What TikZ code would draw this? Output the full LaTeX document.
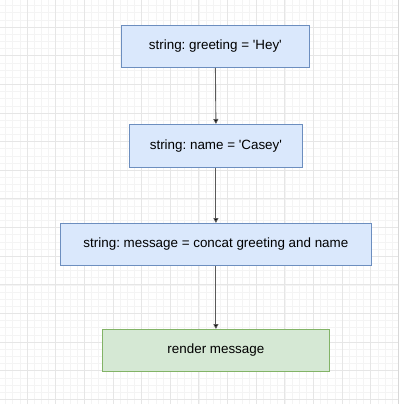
\documentclass[tikz,border=0pt]{standalone}
\usepackage{fontspec}
\setmainfont{Liberation Sans}
\usetikzlibrary{arrows.meta}
\definecolor{bfill}{HTML}{DAE8FC}
\definecolor{bline}{HTML}{6C8EBF}
\definecolor{gfill}{HTML}{D5E8D4}
\definecolor{gline}{HTML}{82B366}
\definecolor{minorg}{HTML}{F4F4F4}
\definecolor{majorg}{HTML}{E6E6E6}
\definecolor{edgeg}{HTML}{D8D8D8}
\tikzset{
  boxtext/.style={inner sep=0pt, anchor=north west, line width=0.8pt, font=\fontsize{13.4}{15}\selectfont\frenchspacing},
  bluebox/.style={boxtext, draw=bline, fill=bfill},
  greenbox/.style={boxtext, draw=gline, fill=gfill},
  flow/.style={draw=black!65, line width=0.9pt, -{Triangle[length=5pt,width=5pt,fill=black]}}
}
\newcommand{\sq}{\textquotesingle}
\begin{document}
\begin{tikzpicture}[x=1pt,y=-1pt]
\fill[white] (0,0) rectangle (400,404);
\useasboundingbox (0,0) rectangle (400,404);
% minor grid
\foreach \i in {0,...,56} {
  \pgfmathsetmacro{\p}{-1.6+7.16*\i}
  \ifdim\p pt<398pt
    \draw[minorg, line width=0.6pt] (\p,0) -- (\p,404);
  \fi
  \draw[minorg, line width=0.6pt] (0,\p) -- (398,\p);
}
% major grid
\foreach \i in {0,...,14} {
  \pgfmathsetmacro{\p}{-1.6+28.64*\i}
  \ifdim\p pt<398pt
    \draw[majorg, line width=0.8pt] (\p,0) -- (\p,404);
  \fi
  \draw[majorg, line width=0.8pt] (0,\p) -- (398,\p);
}
\draw[edgeg, line width=0.8pt] (398,0) -- (398,404);

\node[bluebox, minimum width=188pt, minimum height=42pt] (n1) at (121,25) {string: greeting = \sq Hey\sq};
\node[bluebox, minimum width=173pt, minimum height=43pt] (n2) at (129,124) {string: name = \sq Casey\sq};
\node[bluebox, minimum width=311pt, minimum height=42pt] (n3) at (60,223) {string: message = concat greeting and name};
\node[greenbox, minimum width=227pt, minimum height=42pt] (n4) at (102,329) {render message};

\draw[flow] (n1.south) -- (n2.north);
\draw[flow] (n2.south) -- (n3.north);
\draw[flow] (n3.south) -- (n4.north);
\end{tikzpicture}
\end{document}
